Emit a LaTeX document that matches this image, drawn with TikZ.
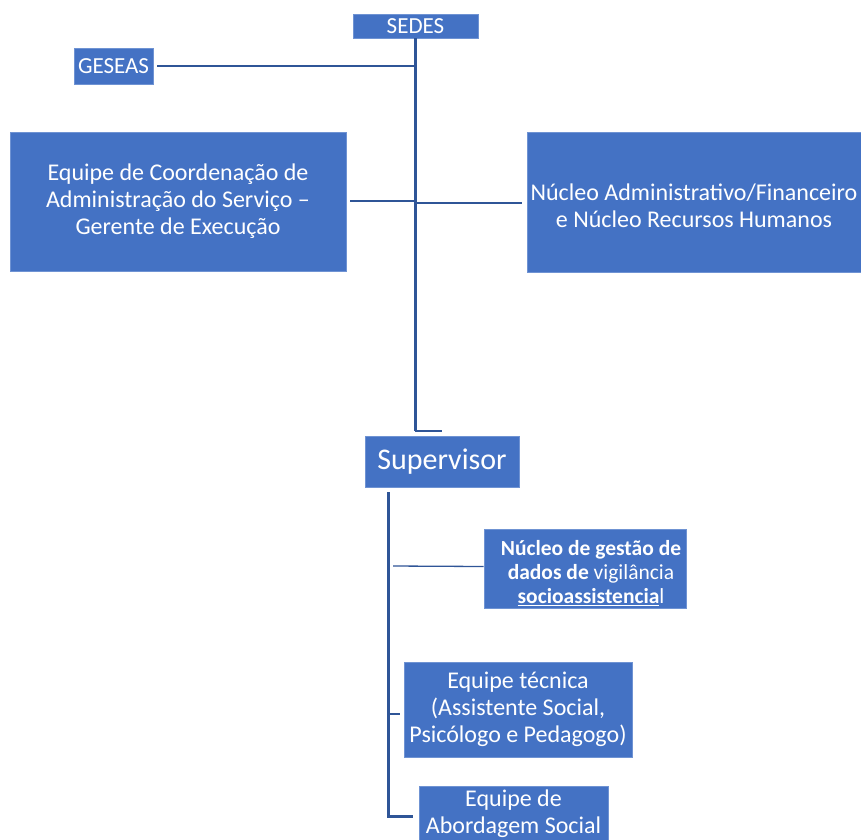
\documentclass[tikz,border=0pt]{standalone}
\usepackage{fontspec}
\setmainfont{Carlito}
\definecolor{boxblue}{HTML}{4472C4}
\definecolor{rimblue}{HTML}{6F93D3}
\definecolor{linkblue}{HTML}{2F5597}
\begin{document}
\begin{tikzpicture}[
	x=1pt,y=-1pt,
	font=\fontsize{24}{27}\selectfont,
	unit/.style={draw=rimblue,fill=boxblue,text=white,align=center,inner sep=0pt,line width=0.6pt},
	caption/.style={text=white,align=center,inner sep=0pt},
	small/.style={font=\fontsize{23}{26}\selectfont},
	tight/.style={font=\fontsize{21.5}{24}\selectfont},
	big/.style={font=\fontsize{30}{34}\selectfont},
	trunk/.style={draw=linkblue,line width=3pt},
	link/.style={draw=linkblue,line width=2pt},
	thinlink/.style={draw=linkblue,line width=1.3pt},
	]
\useasboundingbox (0,0) rectangle (861,839);
% upper level
\node [unit,small,minimum width=125,minimum height=24] (sedes) at (415.5,26) {SEDES};
\node [unit,small,minimum width=79,minimum height=36] (geseas) at (113.5,66) {GESEAS};
\node [unit,minimum width=336,minimum height=139] (coord) at (178,201.5)
	{Equipe de Coordenação de\\Administração do Serviço --\\Gerente de Execução};
\node [unit,minimum width=334,minimum height=140,
	label={[caption,yshift=-3.5pt]center:{Núcleo Administrativo/Financeiro\\e Núcleo Recursos Humanos}}]
	(admin) at (694,202) {};
\node [unit,big,minimum width=154,minimum height=51] (super) at (442,461.5) {Supervisor};
% lower level
\node [unit,minimum width=202,minimum height=79,
	label={[caption,tight,xshift=6pt,yshift=-5pt]center:{\textbf{Núcleo de gestão de}\\\textbf{dados de} vigilância\\\underline{\textbf{socioassistencia}}l}}]
	(dados) at (585,568.5) {};
\node [unit,minimum width=228,minimum height=95] (tecnica) at (518,709.5)
	{Equipe técnica\\(Assistente Social,\\Psicólogo e Pedagogo)};
\node [unit,minimum width=189,minimum height=62,
	label={[caption,yshift=3pt]center:{Equipe de\\Abordagem Social}}]
	(abord) at (513.5,817) {};
% joints
\coordinate (bend) at (415,431);
\coordinate (bend end) at (442,431);
\coordinate (geseas joint) at (415,66);
\coordinate (coord joint) at (415,201);
\coordinate (admin joint) at (415,203);
\coordinate (sub top) at (388,492);
\coordinate (sub bend) at (388,816);
\coordinate (dados joint) at (393,566);
\coordinate (tecnica joint) at (388,714);
% connectors
\draw [trunk] (sedes.south -| bend) -- (bend);
\draw [link] (bend) -- (bend end);
\draw [link] ([xshift=4]geseas.east) -- (geseas joint);
\draw [link] ([xshift=4]coord.east |- coord joint) -- (coord joint);
\draw [link] (admin joint) -- ([xshift=-5]admin.west |- admin joint);
\draw [trunk] (sub top) -- (sub bend) -- ([xshift=-6]abord.west |- sub bend);
\draw [thinlink] (dados joint) -- ([yshift=2]dados.west);
\draw [link] (tecnica joint) -- ([xshift=-4]tecnica.west |- tecnica joint);
\end{tikzpicture}
\end{document}
